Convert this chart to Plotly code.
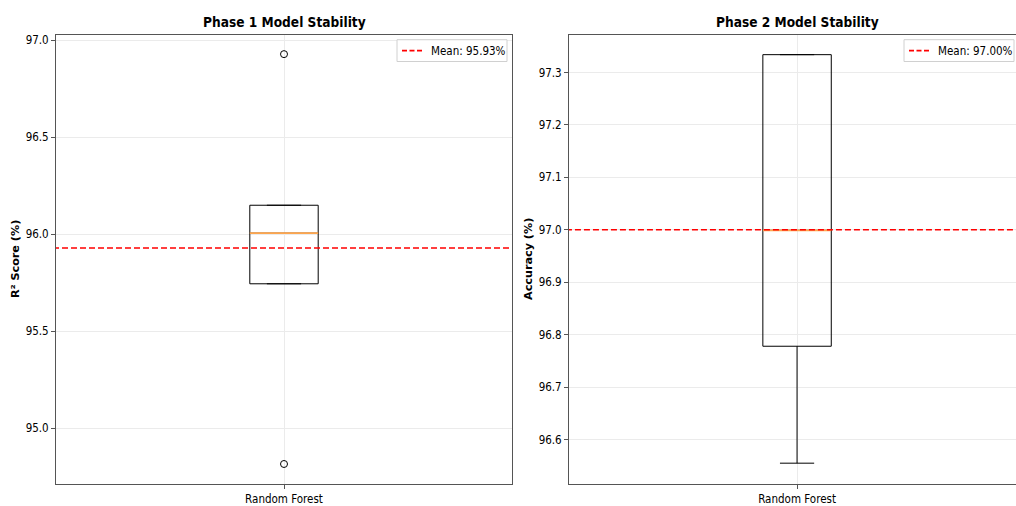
import numpy as np
import plotly.graph_objects as go

# Cross-validation fold scores (%) for the Random Forest model
model_name = "Random Forest"
phase1_r2 = [94.815, 95.744, 96.005, 96.149, 96.928]
phase2_acc = [96.555, 96.778, 96.999, 97.334, 97.334]

phase_titles = ["Phase 1 Model Stability", "Phase 2 Model Stability"]
y_titles = ["R² Score (%)", "Accuracy (%)"]
y_ticks_p1 = [95.0, 95.5, 96.0, 96.5, 97.0]
y_ticks_p2 = [96.6, 96.7, 96.8, 96.9, 97.0, 97.1, 97.2, 97.3]

FONT = "DejaVu Sans Condensed"
BOX_W = 0.15
GRID = "#ebebeb"
FRAME = "#555555"
W, H = 1016, 506

fig = go.Figure()
shapes = []
annotations = []


def add_panel(values, xa, ya, legend_right_px):
    vals = np.asarray(values)
    pos = [1.0] * len(vals)
    fig.add_trace(go.Box(
        x=pos, y=vals, xaxis=xa, yaxis=ya,
        width=BOX_W, whiskerwidth=0.5,
        quartilemethod="inclusive",
        boxpoints="outliers",
        fillcolor="rgba(0,0,0,0)",
        line=dict(color="black", width=1),
        marker=dict(symbol="circle-open", color="black", size=7,
                    line=dict(width=1, color="black")),
        showlegend=False, hoverinfo="skip",
    ))
    med = float(np.median(vals))
    fig.add_trace(go.Scatter(
        x=[1 - BOX_W / 2, 1 + BOX_W / 2], y=[med, med], xaxis=xa, yaxis=ya,
        mode="lines", line=dict(color="#ffa64d", width=1.6),
        showlegend=False, hoverinfo="skip",
    ))
    mean = float(np.mean(vals))
    fig.add_trace(go.Scatter(
        x=[0.0, 2.0], y=[mean, mean], xaxis=xa, yaxis=ya,
        mode="lines", line=dict(color="red", width=1.6, dash="6px,3px"),
        showlegend=False, hoverinfo="skip",
    ))

    # legend box: frame, dashed sample line and label
    lx1 = legend_right_px
    lx0 = lx1 - 110
    ly0, ly1 = 38, 60
    shapes.append(dict(
        type="rect", xref="paper", yref="paper",
        x0=lx0 / W, x1=lx1 / W, y0=1 - ly1 / H, y1=1 - ly0 / H,
        line=dict(color="#d0d0d0", width=1), fillcolor="rgba(255,255,255,0.9)",
        layer="above",
    ))
    shapes.append(dict(
        type="line", xref="paper", yref="paper",
        x0=(lx0 + 5) / W, x1=(lx0 + 25) / W,
        y0=1 - 49 / H, y1=1 - 49 / H,
        line=dict(color="red", width=1.6, dash="5px,2.5px"), layer="above",
    ))
    annotations.append(dict(
        x=(lx0 + 32) / W, y=1 - 49 / H, xref="paper", yref="paper",
        text=f"Mean: {mean:.2f}%", showarrow=False,
        xanchor="left", yanchor="middle",
        font=dict(family=FONT, size=11.5, color="black"),
    ))


add_panel(phase1_r2, "x", "y", 507)
add_panel(phase2_acc, "x2", "y2", 1014)

tick_font = dict(family=FONT, size=11.5, color="black")
axis_common = dict(
    showgrid=True, gridcolor=GRID, gridwidth=1, zeroline=False,
    ticks="outside", ticklen=4, tickcolor=FRAME, tickfont=tick_font,
    linecolor=FRAME, linewidth=1, showline=True,
)

# Panel titles and y-axis titles
for cx, title in zip([284 / W, 797 / W], phase_titles):
    annotations.append(dict(
        x=cx, y=1 - 20 / H, xref="paper", yref="paper",
        text=f"<b>{title}</b>", showarrow=False,
        xanchor="center", yanchor="middle",
        font=dict(family=FONT, size=13.6, color="black"),
    ))
for cx, title in zip([16 / W, 529 / W], y_titles):
    annotations.append(dict(
        x=cx, y=1 - 259 / H, xref="paper", yref="paper",
        text=f"<b>{title}</b>", showarrow=False, textangle=-90,
        xanchor="center", yanchor="middle",
        font=dict(family="DejaVu Sans", size=11.2, color="black"),
    ))

fig.update_layout(
    width=W, height=H,
    margin=dict(l=0, r=0, t=0, b=0),
    paper_bgcolor="white", plot_bgcolor="white",
    font=dict(family=FONT, size=11.5, color="black"),
    showlegend=False,
    xaxis=dict(domain=[56 / W, 512 / W], range=[0.5, 1.5],
               tickvals=[1], ticktext=[model_name], mirror=True,
               anchor="y", **axis_common),
    yaxis=dict(domain=[20 / H, 473 / H], range=[94.711, 97.028],
               tickvals=y_ticks_p1, tickformat=".1f", mirror=True,
               anchor="x", **axis_common),
    xaxis2=dict(domain=[569 / W, 1.0], range=[0.5, 1.48],
                tickvals=[1], ticktext=[model_name], mirror=True,
                anchor="y2", **axis_common),
    yaxis2=dict(domain=[20 / H, 473 / H], range=[96.515, 97.372],
                tickvals=y_ticks_p2, tickformat=".1f", mirror=False,
                anchor="x2", **axis_common),
    shapes=shapes,
    annotations=annotations,
)

fig.write_html("out.html")
